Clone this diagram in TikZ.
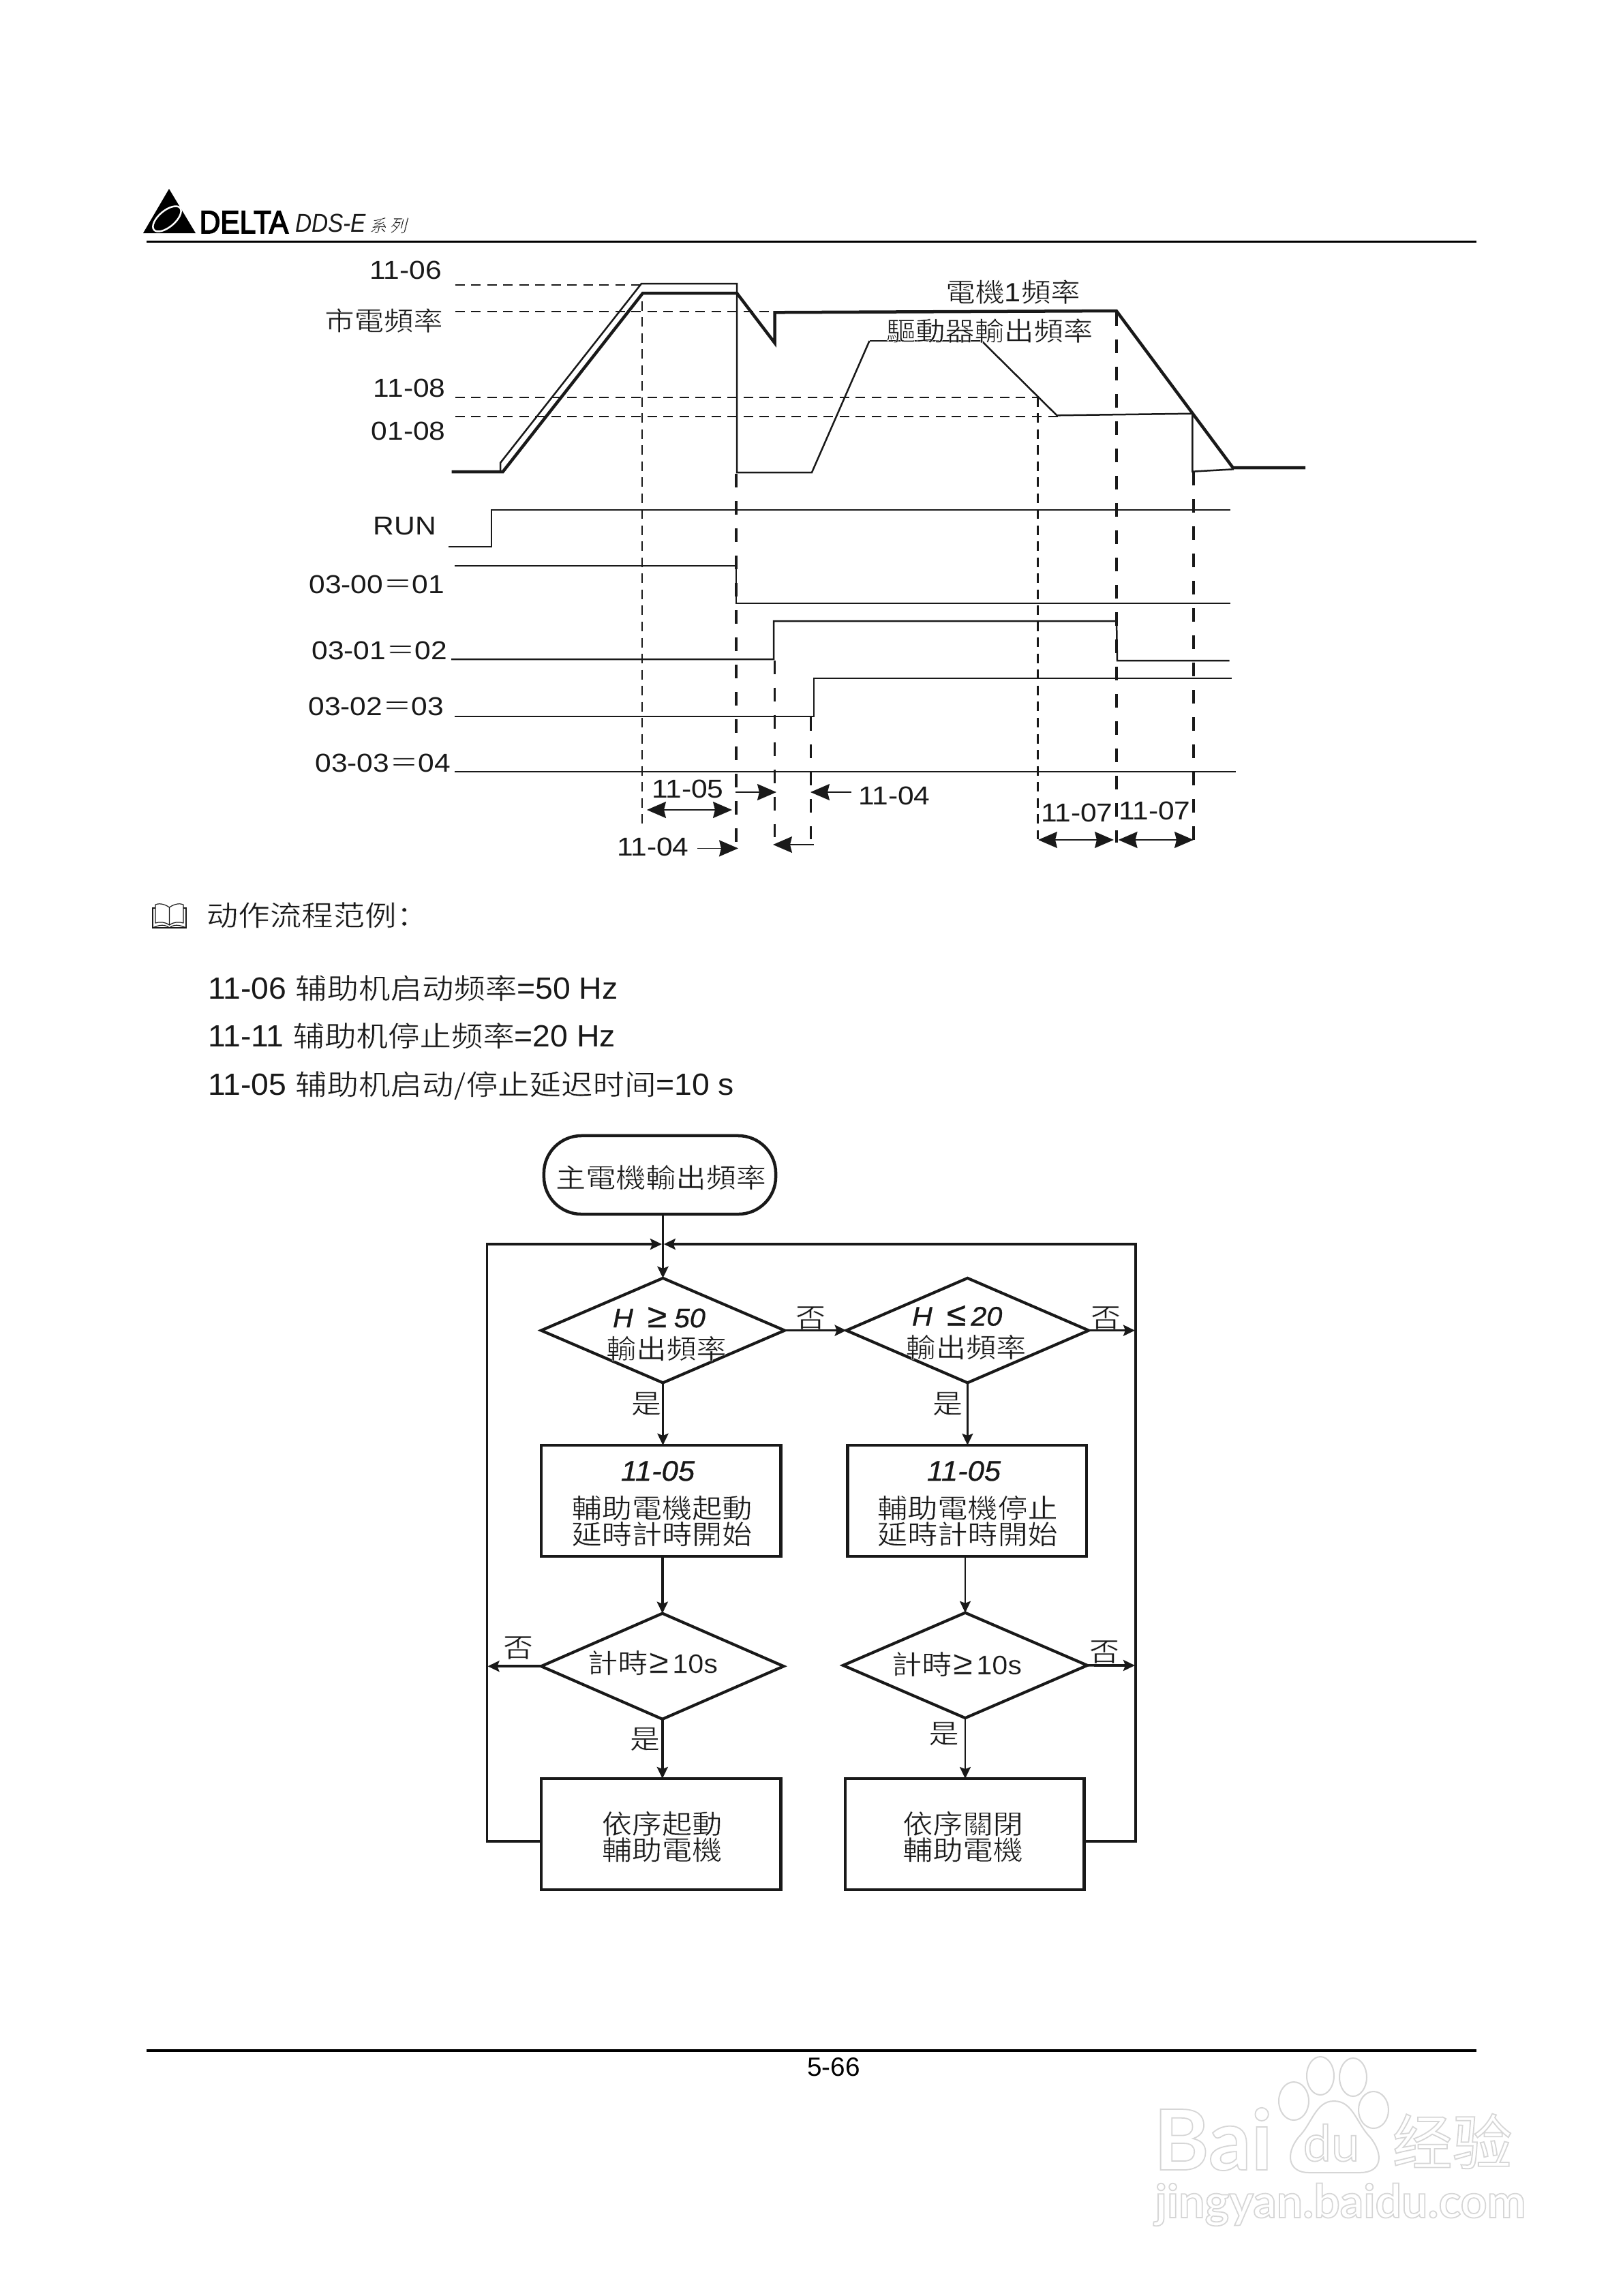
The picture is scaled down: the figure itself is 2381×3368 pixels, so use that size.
\documentclass[tikz,border=0pt]{standalone}
\usepackage{fontspec}
\usetikzlibrary{arrows.meta,shapes.geometric}
\setmainfont{Liberation Sans}
\newfontfamily\cjk[FakeStretch=1.12]{Noto Sans CJK TC}
\newfontfamily\cjks[FakeStretch=1.12]{Noto Sans CJK SC}
\newfontfamily\cjkit[FakeSlant=0.25]{Noto Sans CJK TC}
\newfontfamily\labf[FakeStretch=1.12]{Liberation Sans}
\newfontfamily\bodyf[FakeStretch=1.03]{Liberation Sans}
\newfontfamily\logof[FakeBold=3.5]{Liberation Sans}
\newfontfamily\flowb[FakeStretch=1.05,FakeBold=0.7]{Liberation Sans}
\newfontfamily\wmf{Lato}
\newfontfamily\wmcjk{Noto Sans CJK SC}
\definecolor{ink}{gray}{0.1}
\definecolor{wm}{gray}{0.84}
\newcommand{\wmtext}[1]{\special{pdf:code 0.84 G 1 Tr 0.5 w}#1\special{pdf:code 0 Tr}}
\newcommand{\thinon}{\special{pdf:code 1 G 2 Tr 0.17 w}}
\newcommand{\thinoff}{\special{pdf:code 0 Tr}}
\newcommand{\bigge}{{\fontsize{14}{14}\selectfont≥}}
\newcommand{\bigle}{{\fontsize{14}{14}\selectfont≤}}
\tikzset{
  lab/.style={inner sep=0pt,outer sep=0pt,text=ink,font=\fontsize{10.8}{12}\selectfont\labf},
  chart/.style={inner sep=0pt,outer sep=0pt,text=ink,font=\fontsize{11}{12}\selectfont\cjk},
  flowt/.style={inner sep=0pt,outer sep=0pt,text=ink,align=center,font=\fontsize{11.2}{10.9}\selectfont\cjk},
  flowl/.style={inner sep=0pt,outer sep=0pt,text=ink,font=\fontsize{11.2}{12}\selectfont\flowb},
  body/.style={inner sep=0pt,outer sep=0pt,text=ink,font=\fontsize{12.8}{14}\selectfont\bodyf},
  boxn/.style={draw=ink,line width=0.045cm,inner sep=0pt,outer sep=0pt,fill=white},
  dec/.style={diamond,draw=ink,line width=0.042cm,inner sep=0pt,outer sep=0pt,aspect=1},
  link/.style={draw=ink,line width=0.036cm},
  flowa/.style={link,-{Stealth[length=0.17cm,width=0.16cm,inset=0.03cm]}},
  slim/.style={draw=ink,line width=0.024cm,-{Stealth[length=0.17cm,width=0.16cm,inset=0.03cm]}},
  heavy/.style={draw=ink,line width=0.045cm,line join=miter},
  wave/.style={draw=ink,line width=0.025cm,line join=miter},
  hair/.style={draw=ink,line width=0.015cm},
  dim1/.style={hair,-{Stealth[length=0.28cm,width=0.24cm,inset=0.03cm]}},
  dim2/.style={hair,{Stealth[length=0.28cm,width=0.24cm,inset=0.03cm]}-{Stealth[length=0.28cm,width=0.24cm,inset=0.03cm]}},
  fined/.style={draw=ink,line width=0.018cm,dash pattern=on 0.14cm off 0.095cm},
  fineh/.style={draw=ink,line width=0.024cm,dash pattern=on 0.14cm off 0.095cm},
  bigd/.style={draw=ink,line width=0.035cm,dash pattern=on 0.2cm off 0.2cm},
  midd/.style={draw=ink,line width=0.03cm,dash pattern=on 0.2cm off 0.2cm},
  wmline/.style={draw=wm,line width=0.02cm},
}
\begin{document}
\begin{tikzpicture}[x=0.01cm,y=-0.01cm]
\useasboundingbox (0,0) rectangle (2381,3368);
\fill[white] (0,0) rectangle (2381,3368);

% ---------- header ----------
\fill[black] (248,277) -- (287,342) -- (210,342) -- cycle;
\draw[white,line width=0.025cm,rotate around={40:(245,321)}] (245,321) ellipse (25 and 12);
\node[inner sep=0pt,anchor=base west] (logotext) at (292,342)
  {\scalebox{0.9}[1]{\fontsize{13.4}{14}\selectfont\logof DELTA}};
\node[lab,anchor=base west,font=\fontsize{10.8}{12}\selectfont\itshape] (series) at (433,340) {\scalebox{0.88}[1]{DDS-E}};
\node[inner sep=0pt,anchor=base west,text=ink,font=\fontsize{7.2}{8}\selectfont\cjkit] (seriescn) at (541,340) {\thinon 系\,列};
\draw[black,line width=0.035cm] (215,354.5) -- (2166,354.5);

% ---------- timing: reference levels ----------
\draw[fineh] (667.5,417.7) -- (941,417.7);
\draw[fineh] (667.5,457) -- (1137,457);
\draw[fineh] (667.5,582.7) -- (1523,582.7);
\draw[fined] (667.5,611.3) -- (1551.7,611.3);
\draw[fined] (942,441.7) -- (942,1215);
\draw[fineh] (1522.5,582.7) -- (1522.5,1231);

% ---------- timing: frequency curves ----------
\draw[wave] (734,692) -- (734,679) -- (941,416) -- (1081,416) -- (1081,693) -- (1191,693)
  -- (1275.5,500);
\draw[wave] (1275.5,500) -- (1440,500);
\draw[wave] (1440,500) -- (1550.4,609.3) -- (1749.4,606.7) -- (1749.4,691.7) -- (1810,688.3);
\draw[heavy] (662.6,692) -- (737.7,692) -- (943,430) -- (1081,430) -- (1136.5,503) -- (1136.5,458.3)
  -- (1637.8,456) -- (1808.7,686) -- (1915,686);

% ---------- timing: vertical markers ----------
\draw[bigd] (1080,695) -- (1080,1235);
\draw[bigd] (1638,458) -- (1638,1236);
\draw[bigd] (1751,692) -- (1751,1234);
\draw[midd] (1136,968.5) -- (1136,1228);
\draw[midd] (1189,1052) -- (1189,1231);

% ---------- timing: digital signals ----------
\draw[wave] (658,802) -- (721,802) -- (721,748) -- (1804.5,748);
\draw[wave] (667,830) -- (1080,830) -- (1080,885) -- (1804.5,885);
\draw[wave] (662,967) -- (1135,967) -- (1135,911) -- (1638,911) -- (1639,969) -- (1803.6,969);
\draw[hair,line width=0.02cm] (667,1051) -- (1193.6,1051) -- (1193.6,995) -- (1807,995);
\draw[wave] (667,1132) -- (1812.5,1132);

% ---------- timing: labels ----------
\node[lab,anchor=base east] (l1106) at (648,409) {11-06};
\node[chart,anchor=center] (lmains) at (563,470) {\thinon 市電頻率};
\node[lab,anchor=base east] (l1108) at (653.5,582) {11-08};
\node[lab,anchor=base east] (l0108) at (653.5,645) {01-08};
\node[lab,anchor=base east] (lrun) at (640,784.5) {RUN};
\node[lab,anchor=base east] (l0300) at (652,870) {03-00{\cjk\thinon ＝\thinoff}01};
\node[lab,anchor=base east] (l0301) at (656,967) {03-01{\cjk\thinon ＝\thinoff}02};
\node[lab,anchor=base east] (l0302) at (651,1049) {03-02{\cjk\thinon ＝\thinoff}03};
\node[lab,anchor=base east] (l0303) at (661,1132) {03-03{\cjk\thinon ＝\thinoff}04};
\node[chart,anchor=center] (lmotor) at (1486,428) {\thinon 電機{\thinoff\labf 1\thinon}頻率};
\node[chart,anchor=center] (ldrive) at (1451.5,485) {\thinon 驅動器輸出頻率};

% ---------- timing: dimension arrows ----------
\node[lab,anchor=base west] (t1105) at (956,1170) {11-05};
\node[lab,anchor=base west] (t1104a) at (1259,1180) {11-04};
\node[lab,anchor=base west] (t1104b) at (905,1255.6) {11-04};
\node[lab,anchor=base west] (t1107a) at (1527,1205.5) {11-07};
\node[lab,anchor=base west] (t1107b) at (1641,1202) {11-07};
\draw[dim1] (1079,1162) -- (1139,1162);
\draw[dim1] (1249,1162) -- (1189,1162);
\draw[dim2] (949,1188) -- (1074,1188);
\draw[dim1] (1023,1244.4) -- (1083,1244.4);
\draw[dim1] (1193.6,1239) -- (1134,1239);
\draw[dim2] (1523,1232) -- (1634,1232);
\draw[dim2] (1640.6,1232) -- (1751,1232);

% ---------- text block ----------
\draw[ink,line width=0.012cm,line join=round]
  (248.5,1331) .. controls (240,1325) and (232,1325) .. (228,1327) -- (228,1354)
  .. controls (234,1352) and (242,1352) .. (248.5,1357)
  .. controls (255,1352) and (263,1352) .. (269,1354) -- (269,1327)
  .. controls (265,1325) and (257,1325) .. (248.5,1331) -- (248.5,1357);
\draw[ink,line width=0.012cm] (228,1332) -- (224,1332) -- (224,1361) -- (273,1361) -- (273,1332) -- (269,1332);
\draw[ink,line width=0.012cm] (224,1361) .. controls (234,1356) and (243,1356) .. (248.5,1361)
  .. controls (254,1356) and (263,1356) .. (273,1361);
\node[inner sep=0pt,anchor=base west,text=ink,font=\fontsize{11.8}{13}\selectfont\cjks] (bhead) at (302,1358) {\thinon 动作流程范例：};
\node[body,anchor=base west] (bl1) at (305,1465) {11-06 {\fontsize{11.8}{13}\selectfont\cjks\thinon 辅助机启动频率\thinoff}=50 Hz};
\node[body,anchor=base west] (bl2) at (305,1535) {11-11 {\fontsize{11.8}{13}\selectfont\cjks\thinon 辅助机停止频率\thinoff}=20 Hz};
\node[body,anchor=base west] (bl3) at (305,1606) {11-05 {\fontsize{11.8}{13}\selectfont\cjks\thinon 辅助机启动/停止延迟时间\thinoff}=10 s};

% ---------- flowchart nodes ----------
\node[boxn,rounded corners=0.55cm,minimum width=3.4cm,minimum height=1.15cm] (start) at (968,1723.5) {};
\node[flowt] (startt) at (969.5,1727) {\thinon 主電機輸出頻率};
\node[dec,minimum width=3.57cm,minimum height=1.534cm] (d1) at (972.5,1951.6) {};
\node[dec,minimum width=3.553cm,minimum height=1.534cm] (d2) at (1419.4,1951.6) {};
\node[boxn,minimum width=3.515cm,minimum height=1.63cm] (b1) at (969.8,2201.5) {};
\node[boxn,minimum width=3.5cm,minimum height=1.63cm] (b2) at (1418.8,2201.5) {};
\node[dec,minimum width=3.555cm,minimum height=1.55cm] (d3) at (971.8,2444.2) {};
\node[dec,minimum width=3.58cm,minimum height=1.543cm] (d4) at (1416,2442.9) {};
\node[boxn,minimum width=3.515cm,minimum height=1.627cm] (b3) at (969.8,2690.4) {};
\node[boxn,minimum width=3.505cm,minimum height=1.627cm] (b4) at (1415.3,2690.4) {};

\node[flowl,anchor=base west,font=\fontsize{11.2}{12}\selectfont\flowb\itshape] (h1) at (899,1947) {H\hspace{6pt}\bigge\hspace{3pt}50};
\node[flowt] (h1c) at (977.5,1978) {\thinon 輸出頻率};
\node[flowl,anchor=base west,font=\fontsize{11.2}{12}\selectfont\flowb\itshape] (h2) at (1338,1944.5) {H\hspace{6pt}\bigle\hspace{2pt}20};
\node[flowt] (h2c) at (1417,1976) {\thinon 輸出頻率};
\node[flowl,anchor=base,font=\fontsize{11.8}{12}\selectfont\flowb\itshape] (b1a) at (965,2172) {11-05};
\node[flowt,anchor=center] (b1b) at (971,2231) {\thinon 輔助電機起動\\\thinon 延時計時開始};
\node[flowl,anchor=base,font=\fontsize{11.8}{12}\selectfont\flowb\itshape] (b2a) at (1414,2172) {11-05};
\node[flowt,anchor=center] (b2b) at (1419.4,2231) {\thinon 輔助電機停止\\\thinon 延時計時開始};
\node[flowl,anchor=base west] (d3t) at (862,2454) {{\cjk\thinon 計時\thinoff}\kern0.6pt\bigge\kern1.6pt 10s};
\node[flowl,anchor=base west] (d4t) at (1308,2456) {{\cjk\thinon 計時\thinoff}\kern0.6pt\bigge\kern1.6pt 10s};
\node[flowt,anchor=center] (b3t) at (971,2694) {\thinon 依序起動\\\thinon 輔助電機};
\node[flowt,anchor=center] (b4t) at (1412.5,2694) {\thinon 依序關閉\\\thinon 輔助電機};

\node[flowt] (no1) at (1189,1933) {\thinon 否};
\node[flowt] (no2) at (1622,1933) {\thinon 否};
\node[flowt] (no3) at (760,2417) {\thinon 否};
\node[flowt] (no4) at (1620,2423) {\thinon 否};
\node[flowt] (yes1) at (948,2059) {\thinon 是};
\node[flowt] (yes2) at (1390,2059) {\thinon 是};
\node[flowt] (yes3) at (946,2551) {\thinon 是};
\node[flowt] (yes4) at (1384.5,2543) {\thinon 是};

% ---------- flowchart connectors ----------
\coordinate (jl) at (971,1825);
\coordinate (jr) at (973.8,1825);
\coordinate (b3o) at (794,2701);
\coordinate (b4o) at (1592.5,2701);
\coordinate (r2) at (1665,1951.6);
\coordinate (r4) at (1665,2443);
\coordinate (l3) at (715.5,2444.2);
\draw[flowa] (start.south -| d1.north) -- (d1.north);
\draw[flowa] (d1.east) -- (d2.west);
\draw[flowa] (d2.east) -- (r2);
\draw[flowa] (d1.south) -- (d1.south |- b1.north);
\draw[slim] (d2.south) -- (d2.south |- b2.north);
\draw[flowa] (d3.north |- b1.south) -- (d3.north);
\draw[slim] (d4.north |- b2.south) -- (d4.north);
\draw[flowa] (d3.west) -- (l3);
\draw[flowa] (d4.east) -- (r4);
\draw[flowa] (d3.south) -- (d3.south |- b3.north);
\draw[slim] (d4.south) -- (d4.south |- b4.north);
\draw[flowa] (b3o) -- ++(-79.5,0) |- (jl);
\draw[flowa] (b4o) -- ++(73.5,0) |- (jr);

% ---------- footer ----------
\draw[black,line width=0.035cm] (215,3008) -- (2166,3008);
\node[inner sep=0pt,anchor=base,font=\fontsize{11}{12}\selectfont] (pageno) at (1223,3045) {5-66};

% ---------- watermark ----------
\draw[wmline] (1937,3045) ellipse (20 and 28);
\draw[wmline] (1985,3047) ellipse (20 and 28);
\draw[wmline] (1898,3082) ellipse (22 and 28);
\draw[wmline] (2015,3095) ellipse (22 and 27);
\draw[wmline] (1957,3082) .. controls (1930,3082) and (1925,3115) .. (1905,3135)
  .. controls (1885,3160) and (1890,3187) .. (1920,3187)
  .. controls (1940,3187) and (1975,3187) .. (1995,3187)
  .. controls (2028,3187) and (2030,3160) .. (2010,3135)
  .. controls (1990,3115) and (1985,3082) .. (1957,3082);
\node[inner sep=0pt,anchor=base west,font=\fontsize{35}{36}\selectfont\wmf\bfseries] (wmbai) at (1692,3183) {\wmtext{Bai}};
\node[inner sep=0pt,anchor=base west,font=\fontsize{21}{22}\selectfont\wmf] (wmdu) at (1911,3170) {\wmtext{du}};
\node[inner sep=0pt,anchor=base west,font=\fontsize{25}{26}\selectfont\wmcjk] (wmjy) at (2042,3175) {\wmtext{经验}};
\node[inner sep=0pt,anchor=base west,font=\fontsize{19.3}{21}\selectfont\wmf\bfseries] (wmurl) at (1694,3253) {\wmtext{jingyan.baidu.com}};
\end{tikzpicture}
\end{document}
